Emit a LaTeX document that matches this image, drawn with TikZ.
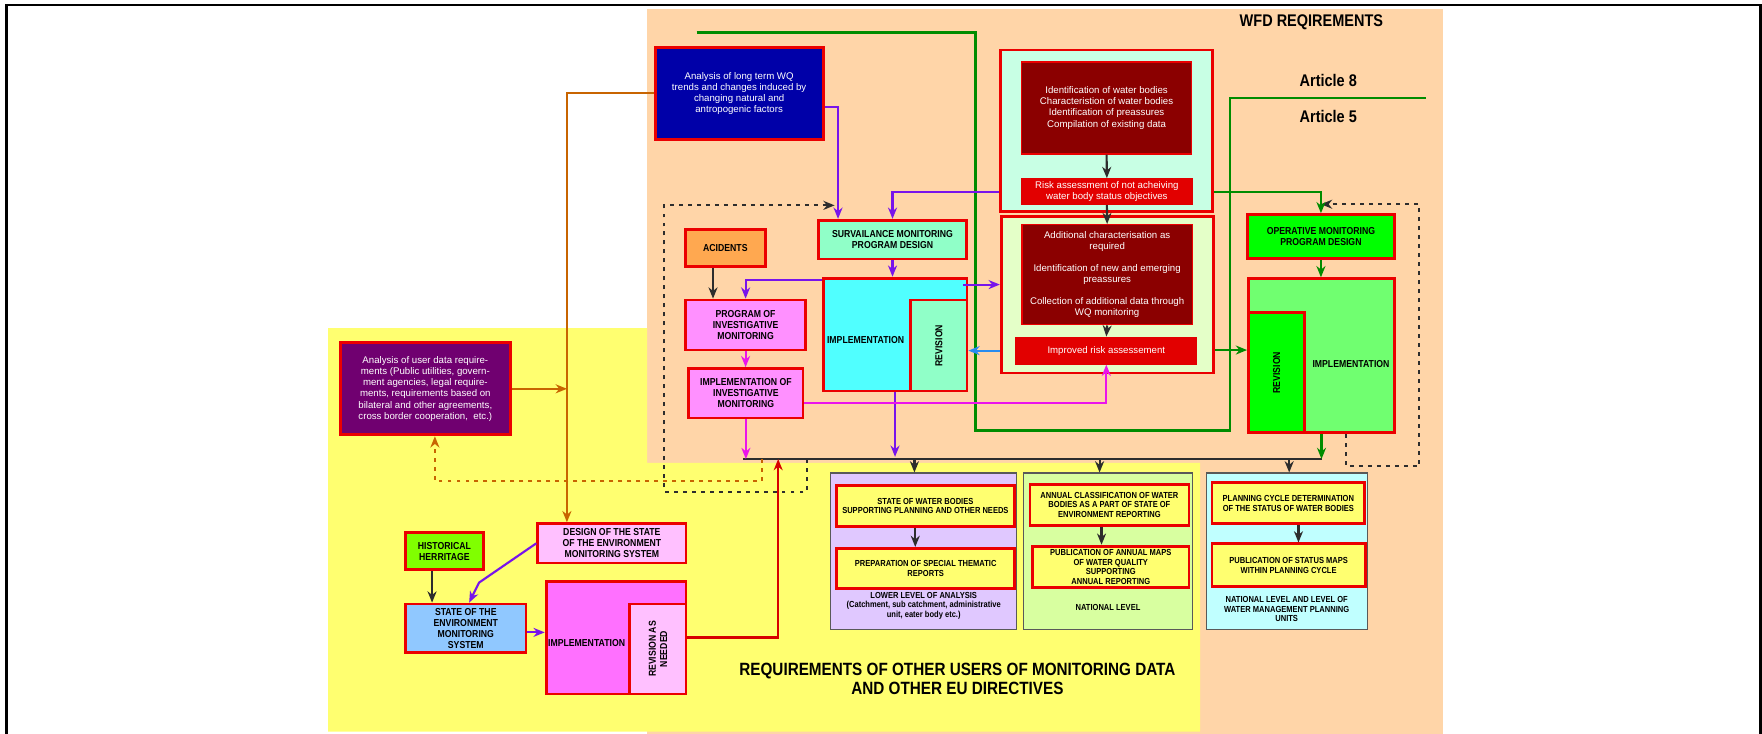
\documentclass[tikz,border=0pt]{standalone}
\usepackage{fontspec}
\setmainfont{Liberation Sans}
\newfontfamily\cnd[FakeStretch=0.86]{Liberation Sans}
\usetikzlibrary{arrows.meta,calc}

% palette
\definecolor{peach}{RGB}{255,213,168}
\definecolor{yel}{RGB}{255,255,112}
\definecolor{boxred}{RGB}{235,0,0}
\definecolor{navyb}{RGB}{0,0,168}
\definecolor{dred}{RGB}{139,0,0}
\definecolor{rfill}{RGB}{226,0,0}
\definecolor{mint}{RGB}{200,255,228}
\definecolor{lgreen}{RGB}{228,255,200}
\definecolor{acid}{RGB}{255,168,80}
\definecolor{surv}{RGB}{144,255,200}
\definecolor{cyanimp}{RGB}{80,255,255}
\definecolor{pinkb}{RGB}{255,144,255}
\definecolor{opgreen}{RGB}{0,255,0}
\definecolor{opimp}{RGB}{112,255,112}
\definecolor{purpleb}{RGB}{112,0,112}
\definecolor{histg}{RGB}{128,255,0}
\definecolor{lpink}{RGB}{255,192,255}
\definecolor{lblue}{RGB}{144,200,255}
\definecolor{magimp}{RGB}{255,112,255}
\definecolor{lav}{RGB}{224,200,255}
\definecolor{natg}{RGB}{216,255,160}
\definecolor{lcyan}{RGB}{192,255,255}
\definecolor{purp}{RGB}{120,20,235}
\definecolor{mag}{RGB}{235,20,235}
\definecolor{orng}{RGB}{200,100,0}
\definecolor{grn}{RGB}{0,140,0}
\definecolor{bluar}{RGB}{40,140,240}
\definecolor{dk}{RGB}{45,45,45}
\definecolor{redar}{RGB}{215,0,0}

\tikzset{
  every node/.style={inner sep=0pt, align=center},
  rbox/.style={draw=boxred, line width=2.5pt},
  darkbox/.style={fill=dred, draw=boxred, line width=1.3pt, wtxt},
  redbox/.style={fill=rfill, draw=rfill, line width=1pt, wtxt},
  pbox/.style={draw=black!65, line width=1.1pt},
  ybox/.style={fill=yel, draw=boxred, line width=2.5pt, ptxt},
  lbl/.style={font=\cnd\bfseries\fontsize{9}{9.9}\selectfont, text=black},
  wtxt/.style={font=\fontsize{8.6}{9.9}\selectfont, text=white},
  ptxt/.style={font=\cnd\bfseries\fontsize{7.8}{8.6}\selectfont, text=black},
  title/.style={font=\cnd\bfseries\fontsize{15}{17}\selectfont, text=black},
  conn/.style={-{Stealth[length=10pt,width=8pt,inset=3.2pt]}, line width=1.9pt},
  dashpat/.style={dash pattern=on 3.5pt off 4.5pt, line width=2pt},
}

% box from (x1,y1) to (x2,y2), y measured downwards
\newcommand\mkbox[7]{\node[#2,minimum width={(#5)-(#3)},minimum height={(#6)-(#4)}] (#1) at ({((#3)+(#5))/2},{((#4)+(#6))/2}) {#7};}

\begin{document}
\begin{tikzpicture}[x=1pt,y=-1pt]
\useasboundingbox (0,0) rectangle (1568,653);

% background areas
\fill[peach] (575.8,8) rectangle (1284,653);
\fill[yel] (292,292) -- (575.8,292) -- (575.8,412) -- (1068,412) -- (1068,651) -- (292,651) -- cycle;

% frame
\draw[line width=2.4pt] (5.5,660) -- (5.5,4.5) -- (1566.5,4.5) -- (1566.5,660);

% headings
\node[title] (wfd) at (1167,20) {WFD REQIREMENTS};
\node[title] (art8) at (1182,72) {Article 8};
\node[title] (art5) at (1182,104) {Article 5};
\node[title, font=\cnd\bfseries\fontsize{15.8}{17}\selectfont] (other) at (852,604)
  {REQUIREMENTS OF OTHER USERS OF MONITORING DATA\\AND OTHER EU DIRECTIVES};

% article 8 / article 5 boundary
\draw[grn, line width=2.2pt] (620,29) -- (868,29) -- (868,383) -- (1094.5,383) -- (1094.5,87) -- (1269,87);

% long term analysis
\mkbox{A}{rbox,fill=navyb,wtxt}{583}{42}{732.5}{124}{Analysis of long term WQ\\trends and changes induced by\\changing natural and\\antropogenic factors}

% article 5 characterisation
\mkbox{B}{rbox,fill=mint}{890}{44.5}{1079}{188}{}
\mkbox{B1}{darkbox}{909}{55}{1060.5}{137}{Identification of water bodies\\Characteristion of water bodies\\Identification of preassures\\Compilation of existing data}
\mkbox{B2}{redbox}{909}{159}{1061}{182}{Risk assessment of not acheiving\\water body status objectives}

\mkbox{C}{rbox,fill=lgreen}{891}{193}{1080}{332}{}
\mkbox{C1}{darkbox}{909.5}{200}{1061}{289}{Additional characterisation as\\required\\[9.5pt]Identification of new and emerging\\preassures\\[9.5pt]Collection of additional data through\\WQ monitoring}
\mkbox{C2}{redbox}{904}{300}{1065}{324}{Improved risk assessement}

% surveillance and investigative monitoring
\mkbox{D}{rbox,fill=acid,lbl}{610}{204}{681}{237}{ACIDENTS}
\mkbox{E}{rbox,fill=surv,lbl}{728.5}{196}{860}{230.5}{SURVAILANCE MONITORING\\PROGRAM DESIGN}
\mkbox{F}{rbox,fill=cyanimp}{732.5}{247.5}{860.5}{348}{}
\mkbox{Frev}{rbox,fill=surv}{810.5}{267}{860.5}{348}{}
\node[lbl] (Ft) at ($(F.west)!0.5!(Frev.west)$) {IMPLEMENTATION};
\node[lbl, rotate=90] (Frevt) at (Frev.center) {REVISION};
\mkbox{G}{rbox,fill=pinkb,lbl}{610}{267}{717}{311.5}{PROGRAM OF\\INVESTIGATIVE\\MONITORING}
\mkbox{H}{rbox,fill=pinkb,lbl}{613}{328}{714.5}{372}{IMPLEMENTATION OF\\INVESTIGATIVE\\MONITORING}

% operative monitoring
\mkbox{I}{rbox,fill=opgreen,lbl}{1110}{191}{1241}{230}{OPERATIVE MONITORING\\PROGRAM DESIGN}
\mkbox{J}{rbox,fill=opimp}{1111}{248}{1241}{385}{}
\mkbox{Jrev}{rbox,fill=opgreen}{1111}{278}{1161}{385}{}
\node[lbl] (Jt) at ($(Jrev.east)!0.5!(J.east)$) {IMPLEMENTATION};
\node[lbl, rotate=90] (Jrevt) at (Jrev.center) {REVISION};

% other users
\mkbox{K}{rbox,fill=purpleb,wtxt}{303}{305}{454}{387}{Analysis of user data require-\\ments (Public utilities, govern-\\ment agencies, legal require-\\ments, requirements based on\\bilateral and other agreements,\\cross border cooperation,\ \ etc.)}
\mkbox{L}{rbox,fill=histg,lbl}{360.5}{474}{430.5}{507}{HISTORICAL\\HERRITAGE}
\mkbox{M}{rbox,fill=lpink,lbl}{478.5}{466}{610.5}{501}{DESIGN OF THE STATE\\OF THE ENVIRONMENT\\MONITORING SYSTEM}
\mkbox{N}{rbox,fill=lblue,lbl}{361}{537.5}{468}{581}{STATE OF THE\\ENVIRONMENT\\MONITORING\\SYSTEM}
\mkbox{O}{rbox,fill=magimp}{486}{517.5}{610.5}{617.5}{}
\mkbox{Orev}{rbox,fill=lpink}{560.5}{537.5}{610.5}{617.5}{}
\node[lbl] (Ot) at ($(O.west)!0.5!(Orev.west)$) {IMPLEMENTATION};
\node[lbl, rotate=90] (Orevt) at (Orev.center) {REVISION AS\\NEEDED};

% reporting levels
\mkbox{P}{pbox,fill=lav}{739}{421}{904.5}{560.5}{}
\mkbox{P1}{ybox}{744.5}{432}{902.5}{468.5}{STATE OF WATER BODIES\\SUPPORTING PLANNING AND OTHER NEEDS}
\mkbox{P2}{ybox}{744.5}{488}{903}{523.5}{PREPARATION OF SPECIAL THEMATIC\\REPORTS}
\node[ptxt] (Plab) at (822,539) {LOWER LEVEL OF ANALYSIS\\(Catchment, sub catchment, administrative\\unit, eater body etc.)};

\mkbox{Q}{pbox,fill=natg}{911}{421}{1061}{560.5}{}
\mkbox{Q1}{ybox}{916.5}{431}{1058}{467.5}{ANNUAL CLASSIFICATION OF WATER\\BODIES AS A PART OF STATE OF\\ENVIRONMENT REPORTING}
\mkbox{Q2}{ybox}{919}{486}{1058}{523}{PUBLICATION OF ANNUAL MAPS\\OF WATER QUALITY\\SUPPORTING\\ANNUAL REPORTING}
\node[ptxt] (Qlab) at (986,541) {NATIONAL LEVEL};

\mkbox{R}{pbox,fill=lcyan}{1073.5}{421}{1217}{560.5}{}
\mkbox{R1}{ybox}{1078.5}{429.5}{1214.5}{466}{PLANNING CYCLE DETERMINATION\\OF THE STATUS OF WATER BODIES}
\mkbox{R2}{ybox}{1078.5}{484}{1215}{522}{PUBLICATION OF STATUS MAPS\\WITHIN PLANNING CYCLE}
\node[ptxt] (Rlab) at (1145,542) {NATIONAL LEVEL AND LEVEL OF\\WATER MANAGEMENT PLANNING\\UNITS};

% helper points
\coordinate (busL) at (661,408.5);
\coordinate (busR) at (1176,408.5);
\coordinate (oc) at ($(M.north)+(-40,0)$);
\coordinate (od) at ($(busL)+(17,0)$);
\coordinate (dl) at ($(busL)+(57,0)$);
\coordinate (rj) at ($(busL)+(31.5,0)$);
\coordinate (fc) at ($(F.north east)+(-5,7)$);
\coordinate (cg) at ($(Jrev.west)+(0,-20)$);
\coordinate (jd) at ($(J.south)+(22,0)$);
\coordinate (da) at ($(D.south)+(-11,0)$);
\coordinate (ld) at ($(L.south)+(-11,0)$);
\coordinate (no) at ($(N.east)+(0,3.5)$);
\coordinate (pa) at ($(P.north)+(-8,0)$);
\coordinate (qa) at ($(Q.north)+(-7.5,0)$);
\coordinate (ra) at ($(R.north)+(2,0)$);
\coordinate (pi) at ($(P1.south)+(-9,0)$);
\coordinate (qi) at ($(Q1.south)+(-7,0)$);
\coordinate (ri) at ($(R1.south)+(9,0)$);

% collecting line
\draw[dk, line width=1.8pt] (busL) -- (busR);

% orange links
\draw[conn,orng] (A.west) -| (oc);
\draw[conn,orng] (K.east) -- (K.east -| oc);
\draw[conn,orng,dashpat] (od) |- ($(K.south)+(8.5,40)$) -- ($(K.south)+(8.5,0)$);

% feedback loops
\draw[conn,dk,dashpat] (dl) |- (591,437.5) |- ($(E.north west)+(15.5,-12)$);
\draw[conn,dk,dashpat] (jd) |- (1263,415) |- ($(I.north)+(0,-8)$);

% surveillance flow
\draw[conn,purp] ($(A.east)+(0,12)$) -| ($(E.north west)+(18.5,0)$);
\draw[conn,purp] (B.west |- B2.west) -| (E.north);
\draw[conn,purp] (E.south) -- (E.south |- F.north);
\draw[conn,purp] ($(F.north west)+(0,3)$) -| (G.north);
\draw[conn,purp] (fc) -- (fc -| C.west);
\draw[conn,purp, shorten >=2pt] (F.south) -- (F.south |- busL);
\draw[conn,bluar] (C2.west -| C.west) -- (C2.west -| Frev.east);

% investigative flow
\draw[conn,dk] (da) -- (da |- G.north);
\draw[conn,mag] (G.south) -- (G.south |- H.north);
\draw[conn,mag] ($(H.east)+(0,9)$) -| (C2.south);
\draw[conn,mag] (H.south) -- (H.south |- busL);

% characterisation flow
\draw[conn,dk] (B1.south) -- (B2.north);
\draw[conn,dk] (B2.south) -- (C1.north);
\draw[conn,dk] (C1.south) -- (C2.north);

% operative flow
\draw[conn,grn] (B.east |- B2.east) -| (I.north);
\draw[conn,grn] (I.south) -- (I.south |- J.north);
\draw[conn,grn] (cg -| C.east) -- (cg);
\draw[conn,grn] (J.south) -- (J.south |- busR);

% state of the environment monitoring
\draw[conn,dk] (ld) -- (ld |- N.north);
\draw[conn,purp] (M.west) -- ++(-51,35) -- ($(N.north)+(3,0)$);
\draw[conn,purp] (no) -- (no -| O.west);
\draw[conn,redar,line width=2.2pt] (O.east) -| (rj);

% outputs
\draw[conn,dk] (pa |- busL) -- (pa);
\draw[conn,dk] (qa |- busL) -- (qa);
\draw[conn,dk] (ra |- busL) -- (ra);
\draw[conn,dk] (pi) -- (pi |- P2.north);
\draw[conn,dk] (qi) -- (qi |- Q2.north);
\draw[conn,dk] (ri) -- (ri |- R2.north);
\end{tikzpicture}
\end{document}
